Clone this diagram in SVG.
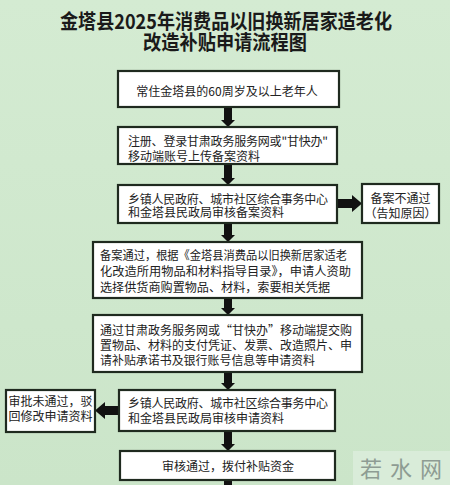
<svg xmlns="http://www.w3.org/2000/svg" width="450" height="485" viewBox="0 0 450 485">
<defs>
<linearGradient id="bg" x1="0" y1="0" x2="0" y2="1">
<stop offset="0" stop-color="#d4ebd2"/>
<stop offset="1" stop-color="#cbe5c9"/>
</linearGradient>
</defs>
<style>
.box{fill:#ffffff;stroke:#1f2a1f;stroke-width:2.2}
.t{font-family:"Noto Sans CJK SC","Noto Sans",sans-serif;font-size:12px;fill:#222}
.c{text-anchor:middle}
.title{font-family:"Noto Sans CJK SC","Noto Sans",sans-serif;font-size:20.5px;font-weight:bold;fill:#1a1a1a;text-anchor:middle}
.arr{fill:#111}
.wm{font-family:"Noto Sans CJK SC","Noto Sans",sans-serif;font-size:22px;fill:#8e9c93;text-anchor:middle;letter-spacing:8px}
</style>
<rect width="450" height="485" fill="url(#bg)"/>
<g id="title">
<text class="title"><tspan x="226" y="29" textLength="332" lengthAdjust="spacingAndGlyphs">金塔县2025年消费品以旧换新居家适老化</tspan><tspan x="225" y="50" textLength="164" lengthAdjust="spacingAndGlyphs">改造补贴申请流程图</tspan></text>
</g>
<g id="connectors">
<path class="arr" d="M224 107 H232 V120 H235 L228 127 L221 120 H224 Z"/>
<path class="arr" d="M224 164 H232 V178 H235 L228 185 L221 178 H224 Z"/>
<path class="arr" d="M224 223 H232 V235 H235 L228 242 L221 235 H224 Z"/>
<path class="arr" d="M224 298 H232 V308 H235 L228 315 L221 308 H224 Z"/>
<path class="arr" d="M224 372 H232 V383 H235 L228 390 L221 383 H224 Z"/>
<path class="arr" d="M224 431 H232 V444 H235 L228 451 L221 444 H224 Z"/>
<path class="arr" d="M224 480 H232 V485 H224 Z"/>
<path class="arr" d="M337 199 H352 V195 L362 203.5 L352 212 V208 H337 Z"/>
<path class="arr" d="M119 406 H105 V402 L95 410.5 L105 419 V415 H119 Z"/>
</g>
<g id="n1">
<rect class="box" x="118" y="71" width="221" height="36"/>
<text class="t c" x="227" y="95.5">常住金塔县的60周岁及以上老年人</text>
</g>
<g id="n2">
<rect class="box" x="118" y="127" width="219" height="37"/>
<text class="t"><tspan x="128" y="146" textLength="200" lengthAdjust="spacing">注册、登录甘肃政务服务网或"甘快办"</tspan><tspan x="128" y="160.5">移动端账号上传备案资料</tspan></text>
</g>
<g id="n3">
<rect class="box" x="118" y="185" width="219" height="38"/>
<text class="t"><tspan x="128" y="204" textLength="200" lengthAdjust="spacing">乡镇人民政府、城市社区综合事务中心</tspan><tspan x="128" y="216.5">和金塔县民政局审核备案资料</tspan></text>
</g>
<g id="n3r">
<rect class="box" x="362" y="184" width="77" height="39"/>
<text class="t c"><tspan x="400.5" y="202.5">备案不通过</tspan><tspan x="400.5" y="217.5">（告知原因）</tspan></text>
</g>
<g id="n4">
<rect class="box" x="93" y="242" width="269" height="56"/>
<text class="t"><tspan x="100" y="259.5" textLength="247" lengthAdjust="spacingAndGlyphs">备案通过，根据《金塔县消费品以旧换新居家适老</tspan><tspan x="100" y="276" textLength="251" lengthAdjust="spacingAndGlyphs">化改造所用物品和材料指导目录》，申请人资助</tspan><tspan x="100" y="291.5" textLength="230" lengthAdjust="spacingAndGlyphs">选择供货商购置物品、材料，索要相关凭据</tspan></text>
</g>
<g id="n5">
<rect class="box" x="93" y="315" width="269" height="57"/>
<text class="t"><tspan x="100" y="334.5" textLength="252" lengthAdjust="spacingAndGlyphs">通过甘肃政务服务网或“甘快办”移动端提交购</tspan><tspan x="100" y="349.5" textLength="252" lengthAdjust="spacingAndGlyphs">置物品、材料的支付凭证、发票、改造照片、申</tspan><tspan x="100" y="364.5" textLength="215" lengthAdjust="spacingAndGlyphs">请补贴承诺书及银行账号信息等申请资料</tspan></text>
</g>
<g id="n6">
<rect class="box" x="119" y="390" width="216" height="41"/>
<text class="t"><tspan x="128" y="407.5" textLength="200" lengthAdjust="spacing">乡镇人民政府、城市社区综合事务中心</tspan><tspan x="128" y="422.5">和金塔县民政局审核申请资料</tspan></text>
</g>
<g id="n6l">
<rect class="box" x="6" y="390" width="89" height="42"/>
<text class="t c"><tspan x="50.5" y="406">审批未通过，驳</tspan><tspan x="50.5" y="421">回修改申请资料</tspan></text>
</g>
<g id="n7">
<rect class="box" x="120" y="451" width="215" height="29"/>
<text class="t c" x="228" y="471">审核通过，拨付补贴资金</text>
</g>
<g id="watermark">
<rect x="353" y="451" width="97" height="34" fill="#d9ecd9"/>
<text class="wm" x="405" y="477">若水网</text>
</g>
</svg>
